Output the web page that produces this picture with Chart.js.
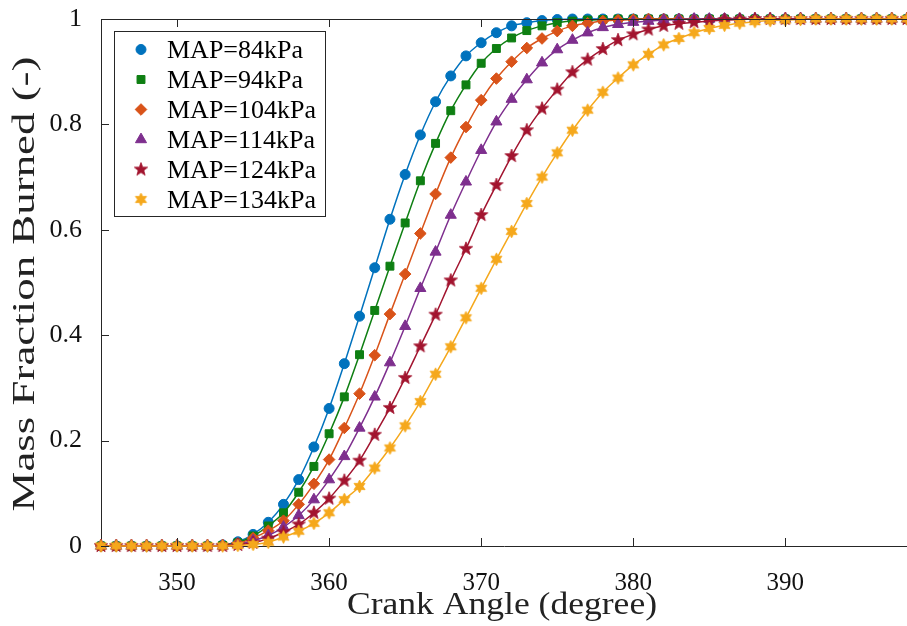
<!DOCTYPE html>
<html lang="en">
<head>
  <meta charset="UTF-8" />
  <title>Mass Fraction Burned</title>
  <script src="https://cdn.jsdelivr.net/npm/chart.js"></script>
  <style>
    html, body { margin: 0; padding: 0; background: #fff; overflow: hidden; }
    #wrap { position: absolute; left: 0; top: 0; width: 907px; height: 626px; }
  </style>
</head>
<body>
  <div id="wrap"><canvas id="mfb"></canvas></div>
  <script>
    // crank angle (degree), one marker per degree
    const angles = [345, 346, 347, 348, 349, 350, 351, 352, 353, 354, 355, 356, 357, 358, 359, 360,
      361, 362, 363, 364, 365, 366, 367, 368, 369, 370, 371, 372, 373, 374, 375, 376, 377, 378, 379, 380,
      381, 382, 383, 384, 385, 386, 387, 388, 389, 390, 391, 392, 393, 394, 395, 396, 397, 398];

    const map84 = [0, 0, 0, 0, 0, 0, 0, 0, 0.002,
      0.008, 0.022, 0.045, 0.079, 0.126, 0.188, 0.261, 0.346, 0.436, 0.528, 0.620, 0.705, 0.780, 0.843,
      0.892, 0.930, 0.955, 0.974, 0.987, 0.993, 0.997, 0.999,
      1, 1, 1, 1, 1, 1, 1, 1, 1, 1, 1, 1, 1, 1, 1, 1, 1, 1, 1, 1, 1, 1, 1];
    const map94 = [0, 0, 0, 0, 0, 0, 0, 0, 0.001,
      0.006, 0.019, 0.038, 0.063, 0.102, 0.151, 0.213, 0.283, 0.363, 0.447, 0.531, 0.613, 0.693, 0.764,
      0.826, 0.875, 0.916, 0.944, 0.964, 0.978, 0.987, 0.993, 0.996, 0.998, 0.999,
      1, 1, 1, 1, 1, 1, 1, 1, 1, 1, 1, 1, 1, 1, 1, 1, 1, 1, 1, 1];
    const map104 = [0, 0, 0, 0, 0, 0, 0, 0, 0.001,
      0.005, 0.015, 0.029, 0.048, 0.079, 0.118, 0.164, 0.224, 0.289, 0.362, 0.440, 0.516, 0.593, 0.668,
      0.737, 0.795, 0.846, 0.887, 0.919, 0.945, 0.963, 0.977, 0.987, 0.992, 0.996, 0.998, 0.999,
      1, 1, 1, 1, 1, 1, 1, 1, 1, 1, 1, 1, 1, 1, 1, 1, 1, 1];
    const map114 = [0, 0, 0, 0, 0, 0, 0, 0, 0,
      0.003, 0.010, 0.020, 0.036, 0.058, 0.088, 0.126, 0.170, 0.224, 0.283, 0.348, 0.417, 0.489, 0.558,
      0.628, 0.691, 0.751, 0.805, 0.848, 0.885, 0.917, 0.942, 0.960, 0.974, 0.984, 0.990, 0.994, 0.996,
      0.998, 0.999,
      1, 1, 1, 1, 1, 1, 1, 1, 1, 1, 1, 1, 1, 1, 1];
    const map124 = [0, 0, 0, 0, 0, 0, 0, 0, 0,
      0.002, 0.006, 0.014, 0.026, 0.041, 0.063, 0.090, 0.124, 0.162, 0.211, 0.262, 0.319, 0.379, 0.439,
      0.504, 0.564, 0.628, 0.685, 0.740, 0.789, 0.830, 0.866, 0.899, 0.923, 0.943, 0.960, 0.971, 0.980,
      0.987, 0.991, 0.994, 0.996, 0.998, 0.999,
      1, 1, 1, 1, 1, 1, 1, 1, 1, 1, 1];
    const map134 = [0, 0, 0, 0, 0, 0, 0, 0, 0,
      0.001, 0.003, 0.007, 0.017, 0.028, 0.043, 0.063, 0.088, 0.113, 0.148, 0.186, 0.228, 0.274, 0.326,
      0.378, 0.433, 0.489, 0.544, 0.597, 0.650, 0.700, 0.746, 0.789, 0.827, 0.861, 0.888, 0.913, 0.933,
      0.951, 0.963, 0.974, 0.982, 0.988, 0.992, 0.995, 0.997, 0.998, 0.999,
      1, 1, 1, 1, 1, 1, 1];

    const seriesLabels = ['MAP=84kPa', 'MAP=94kPa', 'MAP=104kPa', 'MAP=114kPa', 'MAP=124kPa', 'MAP=134kPa'];
    const xTicks = [350, 360, 370, 380, 390];
    const yTicks = [0, 0.2, 0.4, 0.6, 0.8, 1];
    const xTitle = 'Crank Angle (degree)';
    const yTitle = 'Mass Fraction Burned (-)';

    const SERIF = "'Liberation Serif', 'DejaVu Serif', serif";
    const AXIS = '#262626';

    // filled star markers (5 and 6 points) on small canvases
    function starMarker(color, points, outer, inner) {
      const c = document.createElement('canvas');
      const s = Math.ceil(outer * 2 + 2);
      c.width = s; c.height = s;
      const g = c.getContext('2d');
      g.translate(s / 2, s / 2);
      g.beginPath();
      for (let i = 0; i < points * 2; i++) {
        const r = i % 2 === 0 ? outer : inner;
        const a = -Math.PI / 2 + i * Math.PI / points;
        g.lineTo(r * Math.cos(a), r * Math.sin(a));
      }
      g.closePath();
      g.fillStyle = color;
      g.fill();
      g.lineWidth = 0.8;
      g.strokeStyle = color;
      g.stroke();
      return c;
    }

    const colors = ['#0072BD', '#0E7F12', '#D95319', '#7E2F8E', '#A2142F', '#F5A81C'];
    const styles = [
      { pointStyle: 'circle', radius: 5 },
      { pointStyle: 'rect', radius: 5.6 },
      { pointStyle: 'rectRot', radius: 5.8 },
      { pointStyle: 'triangle', radius: 6.4 },
      { pointStyle: starMarker(colors[4], 5, 7, 2.9), radius: 6 },
      { pointStyle: starMarker(colors[5], 6, 6.4, 3.5), radius: 6 }
    ];
    const series = [map84, map94, map104, map114, map124, map134];

    const datasets = series.map((vals, i) => ({
      label: seriesLabels[i],
      data: angles.map((a, j) => ({ x: a, y: vals[j] })),
      borderColor: colors[i],
      backgroundColor: colors[i],
      borderWidth: 1.5,
      pointStyle: styles[i].pointStyle,
      pointRadius: styles[i].radius,
      pointBorderWidth: 1,
      pointBorderColor: colors[i],
      pointBackgroundColor: colors[i],
      cubicInterpolationMode: 'monotone',
      clip: false,
      order: series.length - i
    }));

    // text drawn at a given size, stretched along its length to the wanted extent
    function fitText(ctx, text, len) {
      const w = ctx.measureText(text).width;
      ctx.scale(len / w, 1);
      ctx.fillText(text, 0, 0);
    }

    // MATLAB style box, inward ticks, axis titles and legend
    const frame = {
      id: 'frame',
      afterDraw(chart) {
        const { ctx, chartArea: a, scales: { x, y } } = chart;
        ctx.save();
        ctx.strokeStyle = AXIS;
        ctx.lineWidth = 1;
        ctx.beginPath();
        ctx.moveTo(a.left, a.top + 0.5);
        ctx.lineTo(a.right, a.top + 0.5);
        xTicks.forEach(v => {
          const px = Math.round(x.getPixelForValue(v)) + 0.5;
          ctx.moveTo(px, a.bottom); ctx.lineTo(px, a.bottom - 8);
          ctx.moveTo(px, a.top); ctx.lineTo(px, a.top + 8);
        });
        yTicks.forEach(v => {
          const py = Math.round(y.getPixelForValue(v)) + 0.5;
          ctx.moveTo(a.left, py); ctx.lineTo(a.left + 8, py);
        });
        ctx.stroke();

        // axis titles
        ctx.fillStyle = '#222';
        ctx.textAlign = 'center';
        ctx.textBaseline = 'middle';
        ctx.font = '31px ' + SERIF;
        ctx.save();
        ctx.translate(502, 606);
        fitText(ctx, xTitle, 310);
        ctx.restore();
        ctx.save();
        ctx.translate(26, 284);
        ctx.rotate(-Math.PI / 2);
        fitText(ctx, yTitle, 455);
        ctx.restore();

        // legend box
        const bx = 114.5, by = 31.5, bw = 211, bh = 185;
        ctx.fillStyle = '#fff';
        ctx.fillRect(bx, by, bw, bh);
        ctx.strokeStyle = AXIS;
        ctx.strokeRect(bx, by, bw, bh);
        ctx.font = '26px ' + SERIF;
        ctx.textBaseline = 'middle';
        ctx.textAlign = 'left';
        datasets.forEach((d, i) => {
          const cy = 49.5 + i * 30;
          ctx.fillStyle = d.pointBackgroundColor;
          ctx.strokeStyle = d.pointBorderColor;
          Chart.helpers.drawPoint(ctx, {
            pointStyle: d.pointStyle, radius: d.pointRadius, rotation: 0, borderWidth: 1
          }, 141, cy);
          ctx.fillStyle = '#000';
          ctx.fillText(d.label, 167, cy + 2);
        });
        ctx.restore();
      }
    };

    new Chart(document.getElementById('mfb'), {
      type: 'line',
      data: { datasets },
      plugins: [frame],
      options: {
        responsive: true,
        maintainAspectRatio: false,
        animation: false,
        layout: { autoPadding: false, padding: { top: 19, right: 0, left: 0, bottom: 0 } },
        plugins: { legend: { display: false }, tooltip: { enabled: false } },
        scales: {
          x: {
            type: 'linear',
            min: 345,
            max: 398,
            afterBuildTicks: s => { s.ticks = xTicks.map(v => ({ value: v })); },
            afterFit: s => { s.height = 80; s.paddingLeft = 0; s.paddingRight = 0; },
            grid: { display: false },
            border: { display: true, color: AXIS, width: 1 },
            ticks: { color: '#111', padding: 14, font: { family: SERIF, size: 25 } }
          },
          y: {
            min: 0,
            max: 1,
            afterBuildTicks: s => { s.ticks = yTicks.map(v => ({ value: v })); },
            afterFit: s => { s.width = 101; s.paddingTop = 0; s.paddingBottom = 0; },
            grid: { display: false },
            border: { display: true, color: AXIS, width: 1 },
            ticks: { color: '#111', padding: 11, font: { family: SERIF, size: 26 }, callback: v => String(v) }
          }
        }
      }
    });
  </script>
</body>
</html>
